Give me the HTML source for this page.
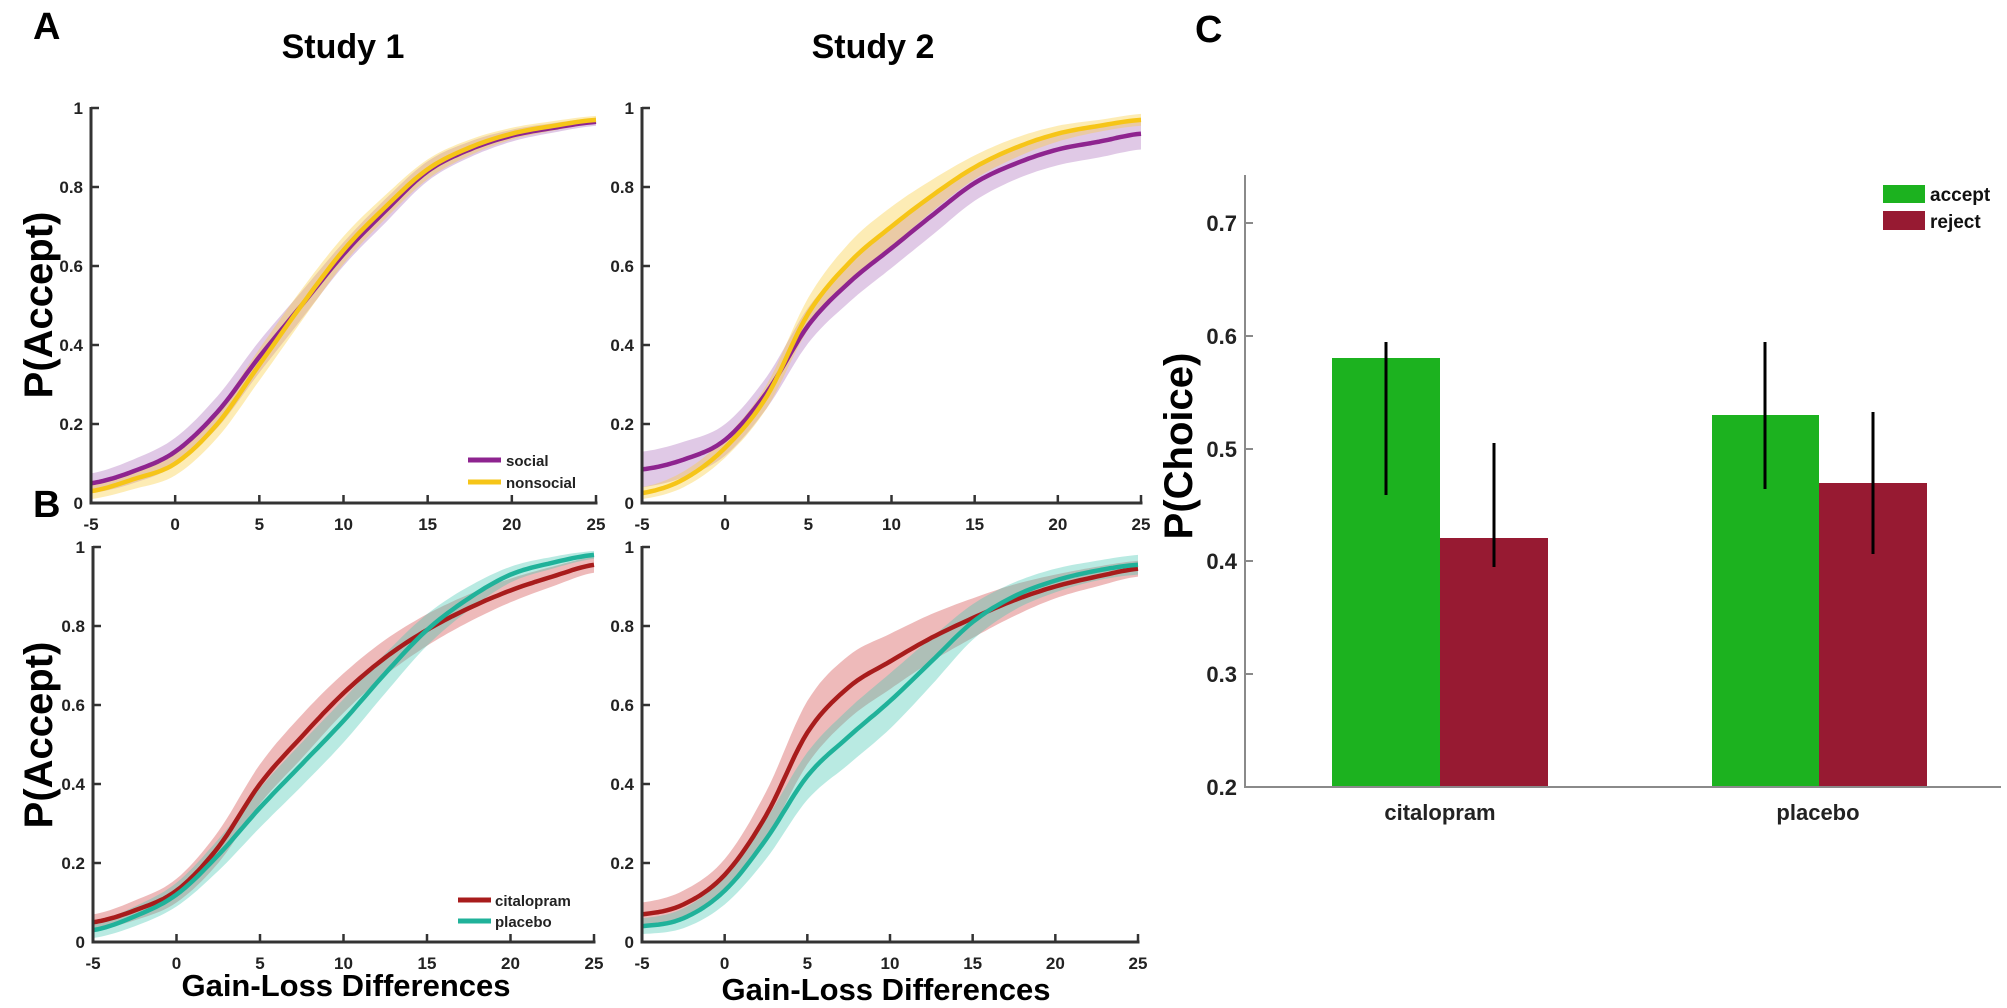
<!DOCTYPE html>
<html><head><meta charset="utf-8">
<style>
html,body{margin:0;padding:0;background:#fff;}
svg{display:block;font-family:"Liberation Sans",Arial,sans-serif;}
</style></head>
<body>
<svg id="s" width="2007" height="1008" viewBox="0 0 2007 1008" xmlns="http://www.w3.org/2000/svg">
<rect width="2007" height="1008" fill="#fff"/>
<g id="plots"></g>
<text x="33" y="39" font-size="38" font-weight="bold">A</text>
<text x="33" y="517" font-size="38" font-weight="bold">B</text>
<text x="1195" y="42" font-size="38" font-weight="bold">C</text>
<text x="343" y="58" font-size="34" font-weight="bold" text-anchor="middle">Study 1</text>
<text x="873" y="58" font-size="34" font-weight="bold" text-anchor="middle">Study 2</text>
<text transform="translate(52,305) rotate(-90)" font-size="40" font-weight="bold" text-anchor="middle">P(Accept)</text>
<text transform="translate(52,735) rotate(-90)" font-size="40" font-weight="bold" text-anchor="middle">P(Accept)</text>
<text x="346" y="996" font-size="31" font-weight="bold" text-anchor="middle">Gain-Loss Differences</text>
<text x="886" y="1000" font-size="31" font-weight="bold" text-anchor="middle">Gain-Loss Differences</text>
<line x1="468" y1="460" x2="501" y2="460" stroke="#8e248f" stroke-width="5"/>
<text x="506" y="466" font-size="15" font-weight="bold" fill="#222">social</text>
<line x1="468" y1="482" x2="501" y2="482" stroke="#f6c518" stroke-width="5"/>
<text x="506" y="488" font-size="15" font-weight="bold" fill="#222">nonsocial</text>
<line x1="458" y1="900" x2="491" y2="900" stroke="#a81c1c" stroke-width="5"/>
<text x="495" y="906" font-size="15" font-weight="bold" fill="#222">citalopram</text>
<line x1="458" y1="921" x2="491" y2="921" stroke="#20b29a" stroke-width="5"/>
<text x="495" y="927" font-size="15" font-weight="bold" fill="#222">placebo</text>

<g>
<rect x="1332" y="358" width="108" height="429" fill="#1cb21f"/>
<rect x="1440" y="538" width="108" height="249" fill="#971a32"/>
<rect x="1712" y="415" width="107" height="372" fill="#1cb21f"/>
<rect x="1819" y="483" width="108" height="304" fill="#971a32"/>
<line x1="1386" y1="342" x2="1386" y2="495" stroke="#000" stroke-width="3"/>
<line x1="1494" y1="443" x2="1494" y2="567" stroke="#000" stroke-width="3"/>
<line x1="1765" y1="342" x2="1765" y2="489" stroke="#000" stroke-width="3"/>
<line x1="1873" y1="412" x2="1873" y2="554" stroke="#000" stroke-width="3"/>
<line x1="1245" y1="175" x2="1245" y2="788" stroke="#8a8a8a" stroke-width="2"/>
<line x1="1245" y1="787" x2="2001" y2="787" stroke="#8a8a8a" stroke-width="2"/>
<g font-size="22" font-weight="bold" fill="#222" text-anchor="end">
<line x1="1245" y1="223" x2="1253" y2="223" stroke="#8a8a8a" stroke-width="2"/><text x="1237" y="231">0.7</text>
<line x1="1245" y1="336" x2="1253" y2="336" stroke="#8a8a8a" stroke-width="2"/><text x="1237" y="344">0.6</text>
<line x1="1245" y1="449" x2="1253" y2="449" stroke="#8a8a8a" stroke-width="2"/><text x="1237" y="457">0.5</text>
<line x1="1245" y1="561" x2="1253" y2="561" stroke="#8a8a8a" stroke-width="2"/><text x="1237" y="569">0.4</text>
<line x1="1245" y1="674" x2="1253" y2="674" stroke="#8a8a8a" stroke-width="2"/><text x="1237" y="682">0.3</text>
<text x="1237" y="795">0.2</text>
</g>
<text x="1440" y="820" font-size="22" font-weight="bold" fill="#222" text-anchor="middle">citalopram</text>
<text x="1818" y="820" font-size="22" font-weight="bold" fill="#222" text-anchor="middle">placebo</text>
<text transform="translate(1192,446) rotate(-90)" font-size="40" font-weight="bold" text-anchor="middle">P(Choice)</text>
<rect x="1883" y="185" width="42" height="18" fill="#1cb21f"/>
<text x="1930" y="201" font-size="19" font-weight="bold" fill="#111">accept</text>
<rect x="1883" y="211" width="42" height="19" fill="#971a32"/>
<text x="1930" y="228" font-size="19" font-weight="bold" fill="#111">reject</text>
</g>
</svg>
<script>
(function(){
var NS="http://www.w3.org/2000/svg";
var g=document.getElementById("plots");
function el(t,a,p){var e=document.createElementNS(NS,t);for(var k in a)e.setAttribute(k,a[k]);(p||g).appendChild(e);return e;}
var X=[-5,-2.5,0,2.5,5,7.5,10,12.5,15,17.5,20,22.5,25];
function interp(ys,x){
  var i=Math.min(Math.floor((x+5)/2.5),X.length-2);var t=(x-X[i])/2.5;
  var p0=ys[Math.max(i-1,0)],p1=ys[i],p2=ys[i+1],p3=ys[Math.min(i+2,ys.length-1)];
  return 0.5*((2*p1)+(-p0+p2)*t+(2*p0-5*p1+4*p2-p3)*t*t+(-p0+3*p1-3*p2+p3)*t*t*t);
}
function plot(ax,series){
  var sx=function(v){return ax.x0+(v+5)/30*(ax.x1-ax.x0);};
  var sy=function(v){return ax.y0-(v)*(ax.y0-ax.y1);};
  series.forEach(function(s){
    var up=[],dn=[],ln=[];
    for(var x=-5;x<=25.001;x+=0.25){
      var m=interp(s.m,x),w=interp(s.w,x);
      ln.push(sx(x).toFixed(1)+","+sy(m).toFixed(1));
      up.push(sx(x).toFixed(1)+","+sy(m+w).toFixed(1));
      dn.unshift(sx(x).toFixed(1)+","+sy(m-w).toFixed(1));
    }
    el("polygon",{points:up.concat(dn).join(" "),fill:s.band,stroke:"none"});
    s._ln=ln;
  });
  series.forEach(function(s){
    el("polyline",{points:s._ln.join(" "),fill:"none",stroke:s.c,"stroke-width":4.5,"stroke-linejoin":"round"});
  });
  el("line",{x1:ax.x0,y1:ax.y1-1,x2:ax.x0,y2:ax.y0+1.5,stroke:"#333","stroke-width":3});
  el("line",{x1:ax.x0-1.5,y1:ax.y0,x2:ax.x1+1.5,y2:ax.y0,stroke:"#333","stroke-width":3});
  for(var v=-5;v<=25;v+=5){
    var xx=sx(v);
    el("line",{x1:xx,y1:ax.y0,x2:xx,y2:ax.y0-8,stroke:"#333","stroke-width":2.5});
    var t=el("text",{x:xx,y:ax.y0+27,"font-size":17,"font-weight":"bold",fill:"#222","text-anchor":"middle"});
    t.textContent=String(v);
  }
  [0,0.2,0.4,0.6,0.8,1].forEach(function(v){
    var yy=sy(v);
    el("line",{x1:ax.x0,y1:yy,x2:ax.x0+8,y2:yy,stroke:"#333","stroke-width":2.5});
    var t=el("text",{x:ax.x0-8,y:yy+6,"font-size":17,"font-weight":"bold",fill:"#222","text-anchor":"end"});
    t.textContent=String(v);
  });
}
var PUR="#8e248f",YEL="#f6c518",RED="#a81c1c",TEAL="#20b29a";
var PB="rgba(160,90,180,0.33)",YB="rgba(250,205,60,0.38)",RB="rgba(215,90,90,0.42)",TB="rgba(70,200,180,0.38)";
plot({x0:91,x1:596,y0:503,y1:108},[
 {m:[0.05,0.08,0.13,0.23,0.37,0.50,0.63,0.74,0.84,0.895,0.93,0.95,0.965],w:[0.025,0.03,0.035,0.04,0.04,0.035,0.03,0.03,0.025,0.02,0.015,0.012,0.01],c:PUR,band:PB},
 {m:[0.03,0.06,0.10,0.20,0.35,0.50,0.64,0.75,0.845,0.90,0.935,0.955,0.97],w:[0.02,0.025,0.03,0.035,0.04,0.04,0.035,0.03,0.025,0.02,0.015,0.012,0.01],c:YEL,band:YB}
]);
plot({x0:642,x1:1141,y0:503,y1:108},[
 {m:[0.085,0.11,0.16,0.28,0.45,0.56,0.645,0.73,0.81,0.86,0.895,0.915,0.935],w:[0.045,0.045,0.04,0.04,0.045,0.05,0.05,0.05,0.045,0.04,0.04,0.04,0.04],c:PUR,band:PB},
 {m:[0.025,0.06,0.14,0.27,0.48,0.61,0.70,0.78,0.85,0.90,0.935,0.955,0.97],w:[0.015,0.02,0.025,0.03,0.04,0.05,0.05,0.04,0.03,0.025,0.02,0.015,0.015],c:YEL,band:YB}
]);
plot({x0:93,x1:594,y0:942,y1:547},[
 {m:[0.05,0.08,0.13,0.24,0.40,0.52,0.63,0.72,0.79,0.845,0.89,0.925,0.955],w:[0.02,0.025,0.03,0.04,0.05,0.055,0.05,0.045,0.04,0.035,0.03,0.025,0.02],c:RED,band:RB},
 {m:[0.03,0.065,0.12,0.22,0.34,0.45,0.56,0.68,0.79,0.87,0.93,0.96,0.98],w:[0.02,0.025,0.03,0.04,0.05,0.055,0.055,0.05,0.04,0.03,0.02,0.015,0.01],c:TEAL,band:TB}
]);
plot({x0:642,x1:1138,y0:942,y1:547},[
 {m:[0.07,0.095,0.17,0.32,0.53,0.645,0.71,0.77,0.82,0.865,0.90,0.925,0.945],w:[0.03,0.035,0.04,0.06,0.08,0.08,0.07,0.06,0.05,0.04,0.03,0.025,0.02],c:RED,band:RB},
 {m:[0.04,0.06,0.13,0.26,0.42,0.52,0.61,0.71,0.81,0.875,0.915,0.94,0.955],w:[0.02,0.025,0.035,0.05,0.06,0.07,0.07,0.06,0.045,0.035,0.03,0.025,0.025],c:TEAL,band:TB}
]);
})();
</script>
</body></html>
